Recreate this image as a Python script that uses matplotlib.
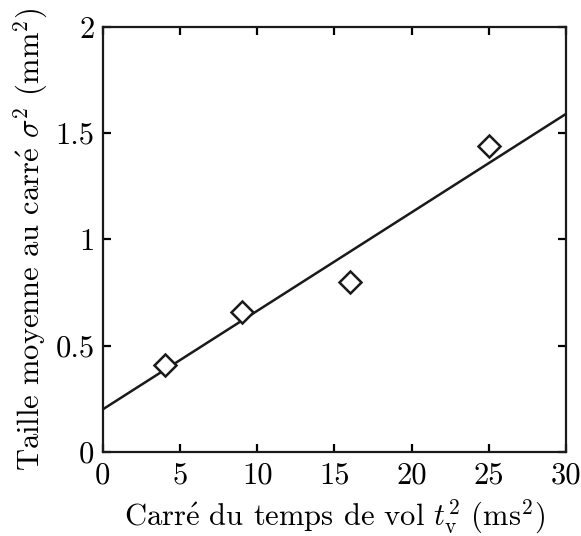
import matplotlib
matplotlib.use('Agg')
import numpy as np
import matplotlib.pyplot as plt

# donnees
t_v2 = [4, 9, 16, 25]           # ms^2
sigma2 = [0.41, 0.66, 0.80, 1.44]  # mm^2
fit_x = [0, 30]
fit_y = [0.20, 1.59]

x_ticks = [0, 5, 10, 15, 20, 25, 30]
y_ticks = [0, 0.5, 1, 1.5, 2]
y_labels = ['0', '0.5', '1', '1.5', '2']

plt.rcParams['font.family'] = ['cmr10', 'DejaVu Serif']
plt.rcParams['mathtext.fontset'] = 'cm'
plt.rcParams['axes.unicode_minus'] = False

fig = plt.figure(figsize=(5.81, 5.36), dpi=100)
ax = fig.add_axes([0.177, 0.157, 0.797, 0.793])

ax.plot(fit_x, fit_y, color='#1a1a1a', lw=1.8)
ax.plot(t_v2, sigma2, 'D', ms=11.5, mfc='white', mec='#1a1a1a', mew=1.8)

ax.set_xlim(0, 30)
ax.set_ylim(0, 2)
ax.set_xticks(x_ticks)
ax.set_yticks(y_ticks)
ax.set_yticklabels(y_labels)

ax.tick_params(direction='in', top=True, right=True, length=6, width=1.6,
               labelsize=22)
ax.tick_params(axis='x', pad=7)
ax.tick_params(axis='y', pad=6)
for s in ax.spines.values():
    s.set_linewidth(1.6)
    s.set_color('#1a1a1a')

ax.set_xlabel(r'Carr$\mathrm{\acute{e}}$ du temps de vol $t_\mathrm{v}^2$ (ms$^2$)',
              fontsize=22, labelpad=6)
ax.set_ylabel(r'Taille moyenne au carr$\mathrm{\acute{e}}$ $\sigma^2$ (mm$^2$)',
              fontsize=22, labelpad=4)

fig.savefig('out.png', dpi=100)
